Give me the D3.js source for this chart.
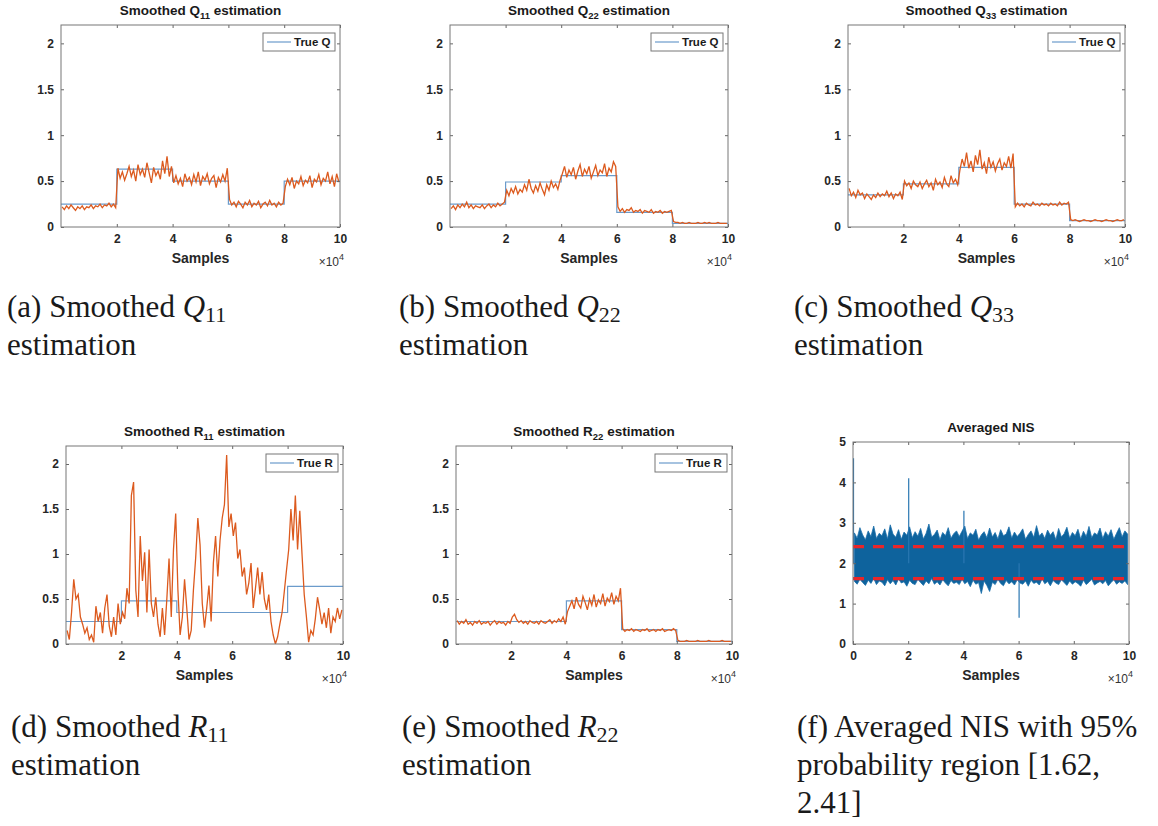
<!DOCTYPE html>
<html>
<head>
<meta charset="utf-8">
<script src="https://cdn.jsdelivr.net/npm/d3@7"></script>
<style>
  body { margin: 0; background: #fff; }
  svg { display: block; }
</style>
</head>
<body>
<svg id="chart" width="1158" height="826"></svg>
<script>
// ---- data ----
const sampleStep = 800;
const segmentBreaks = [0, 20000, 40000, 60000, 80000, 100000];
const xTicksMain = [20000, 40000, 60000, 80000, 100000];
const xTicksNis = [0, 20000, 40000, 60000, 80000, 100000];
const yTicksMain = [0, 0.5, 1, 1.5, 2];
const yTicksNis = [0, 1, 2, 3, 4, 5];

const trueQ11 = [0.25, 0.63, 0.5, 0.25, 0.5];
const estQ11 = [
  0.22,0.19,0.23,0.20,0.24,0.21,0.18,0.22,0.20,0.23,0.19,0.22,0.21,0.24,0.20,0.23,0.22,0.25,0.21,0.24,0.23,0.26,0.22,0.25,0.21,
  0.64,0.53,0.60,0.51,0.58,0.66,0.55,0.62,0.50,0.68,0.57,0.63,0.54,0.70,0.59,0.48,0.65,0.56,0.61,0.52,0.72,0.58,0.77,0.55,0.66,
  0.48,0.56,0.47,0.53,0.44,0.58,0.50,0.54,0.46,0.57,0.49,0.60,0.45,0.55,0.51,0.58,0.47,0.53,0.56,0.43,0.54,0.49,0.57,0.50,0.64,
  0.30,0.24,0.27,0.22,0.28,0.25,0.21,0.27,0.24,0.29,0.22,0.26,0.24,0.28,0.21,0.25,0.27,0.23,0.29,0.24,0.26,0.22,0.27,0.24,0.26,
  0.44,0.52,0.46,0.54,0.42,0.50,0.47,0.55,0.45,0.51,0.48,0.56,0.43,0.52,0.49,0.57,0.46,0.53,0.50,0.60,0.47,0.55,0.44,0.58,0.49
];

const trueQ22 = [0.25, 0.49, 0.56, 0.16, 0.04];
const estQ22 = [
  0.20,0.23,0.19,0.24,0.21,0.25,0.22,0.27,0.21,0.24,0.20,0.23,0.22,0.21,0.24,0.20,0.23,0.25,0.21,0.24,0.22,0.26,0.23,0.25,0.27,
  0.40,0.34,0.42,0.37,0.44,0.36,0.41,0.38,0.46,0.40,0.52,0.42,0.37,0.45,0.39,0.48,0.41,0.35,0.46,0.40,0.50,0.43,0.47,0.41,0.51,
  0.58,0.66,0.54,0.62,0.57,0.65,0.52,0.61,0.68,0.55,0.63,0.58,0.66,0.53,0.60,0.67,0.56,0.62,0.59,0.69,0.55,0.64,0.60,0.71,0.66,
  0.22,0.17,0.20,0.16,0.19,0.18,0.21,0.16,0.18,0.17,0.19,0.15,0.18,0.17,0.16,0.19,0.15,0.17,0.16,0.18,0.15,0.17,0.16,0.17,0.18,
  0.06,0.05,0.05,0.04,0.05,0.04,0.04,0.05,0.04,0.04,0.04,0.05,0.04,0.04,0.05,0.04,0.05,0.04,0.04,0.04,0.05,0.04,0.04,0.04,0.04
];

const trueQ33 = [0.35, 0.47, 0.65, 0.25, 0.07];
const estQ33 = [
  0.42,0.34,0.38,0.32,0.40,0.35,0.37,0.31,0.36,0.33,0.30,0.35,0.32,0.37,0.33,0.36,0.34,0.39,0.33,0.37,0.31,0.36,0.34,0.38,0.30,
  0.50,0.45,0.48,0.42,0.50,0.46,0.44,0.49,0.42,0.47,0.51,0.44,0.48,0.40,0.52,0.46,0.49,0.43,0.54,0.47,0.44,0.56,0.48,0.52,0.46,
  0.62,0.74,0.66,0.81,0.64,0.72,0.60,0.78,0.68,0.84,0.63,0.70,0.58,0.76,0.65,0.71,0.61,0.69,0.74,0.62,0.70,0.66,0.77,0.64,0.80,
  0.22,0.26,0.23,0.25,0.22,0.26,0.24,0.23,0.27,0.24,0.25,0.23,0.26,0.24,0.25,0.23,0.26,0.24,0.25,0.23,0.27,0.24,0.26,0.25,0.27,
  0.08,0.07,0.08,0.07,0.06,0.07,0.08,0.07,0.07,0.06,0.07,0.08,0.07,0.07,0.06,0.07,0.08,0.07,0.07,0.06,0.07,0.08,0.07,0.07,0.08
];

const trueR11 = [0.25, 0.48, 0.35, 0.35, 0.64];
const estR11 = [
  0.15,0.05,0.35,0.72,0.50,0.55,0.30,0.22,0.12,0.18,0.05,0.10,0.02,0.42,0.25,0.35,0.12,0.40,0.55,0.20,0.08,0.30,0.10,0.45,0.22,
  0.35,0.28,0.62,0.45,1.65,1.80,0.60,0.30,1.20,0.70,1.02,0.35,1.05,0.45,0.30,0.52,0.22,0.08,0.40,0.10,0.50,0.95,0.30,1.05,1.45,
  0.60,0.10,0.30,0.72,0.40,0.05,0.15,0.60,0.95,1.40,1.10,0.45,0.18,0.40,0.65,0.25,0.90,1.20,0.75,1.15,1.40,1.55,2.10,1.30,1.45,
  1.20,1.35,0.95,1.05,0.75,0.85,0.55,0.68,0.90,0.40,0.62,0.85,0.55,0.80,0.50,0.38,0.55,0.25,0.10,0.00,0.08,0.22,0.35,0.58,0.82,
  1.05,1.50,1.15,1.65,1.05,1.48,1.00,0.55,0.30,0.02,0.15,0.10,0.28,0.52,0.38,0.22,0.35,0.18,0.40,0.12,0.30,0.25,0.40,0.28,0.38
];

const trueR22 = [0.25, 0.25, 0.48, 0.16, 0.03];
const estR22 = [
  0.26,0.22,0.25,0.23,0.27,0.22,0.24,0.21,0.25,0.23,0.26,0.22,0.24,0.23,0.25,0.21,0.24,0.26,0.22,0.25,0.23,0.24,0.21,0.25,0.23,
  0.30,0.33,0.27,0.24,0.26,0.23,0.25,0.22,0.26,0.24,0.23,0.25,0.22,0.26,0.24,0.23,0.25,0.27,0.23,0.26,0.24,0.28,0.25,0.30,0.22,
  0.36,0.42,0.48,0.39,0.52,0.44,0.40,0.53,0.46,0.38,0.50,0.43,0.55,0.41,0.49,0.45,0.56,0.42,0.51,0.47,0.57,0.44,0.53,0.48,0.62,
  0.17,0.14,0.16,0.15,0.17,0.14,0.16,0.15,0.14,0.16,0.15,0.17,0.14,0.15,0.16,0.14,0.16,0.15,0.17,0.14,0.15,0.16,0.15,0.17,0.15,
  0.04,0.03,0.03,0.03,0.04,0.03,0.03,0.03,0.03,0.04,0.03,0.03,0.03,0.03,0.04,0.03,0.03,0.03,0.03,0.03,0.04,0.03,0.03,0.03,0.03
];

// averaged NIS: upper / lower envelope per 1000 samples
const nisBinStep = 1000;
const nisHigh = [
  2.75,2.62,2.88,2.70,2.58,2.80,2.66,2.92,2.61,2.74,
  2.68,2.85,2.60,2.95,2.72,2.64,2.83,2.59,2.77,2.69,
  2.90,2.63,2.78,2.67,2.86,2.60,2.74,2.97,2.65,2.71,
  2.82,2.58,2.76,2.68,2.88,2.62,2.73,2.80,2.66,2.79,
  2.92,2.61,2.75,2.69,2.84,2.57,2.70,2.78,2.63,2.87,
  2.65,2.76,2.60,2.83,2.68,2.72,2.90,2.62,2.77,2.66,
  2.74,2.85,2.59,2.71,2.80,2.64,2.93,2.67,2.75,2.61,
  2.82,2.69,2.78,2.58,2.86,2.65,2.73,2.89,2.62,2.76,
  2.68,2.84,2.60,2.79,2.66,2.91,2.63,2.75,2.70,2.87,
  2.61,2.78,2.67,2.83,2.59,2.74,2.88,2.65,2.80,2.72
];
const nisLow = [
  1.55,1.48,1.60,1.52,1.45,1.58,1.50,1.62,1.47,1.56,
  1.53,1.44,1.59,1.49,1.57,1.46,1.61,1.51,1.54,1.43,
  1.58,1.50,1.47,1.60,1.52,1.45,1.56,1.49,1.62,1.48,
  1.54,1.46,1.59,1.51,1.44,1.57,1.50,1.53,1.47,1.60,
  1.49,1.55,1.42,1.58,1.48,1.52,1.25,1.56,1.45,1.30,
  1.53,1.47,1.60,1.50,1.44,1.57,1.49,1.54,1.46,1.59,
  1.51,1.48,1.56,1.43,1.58,1.50,1.53,1.46,1.61,1.49,
  1.55,1.44,1.57,1.51,1.47,1.59,1.52,1.45,1.56,1.48,
  1.54,1.50,1.43,1.58,1.47,1.53,1.60,1.46,1.51,1.55,
  1.49,1.57,1.44,1.52,1.59,1.48,1.54,1.50,1.56,1.47
];
const nisSpikeSamples = [0, 20000, 40000, 60000];
const nisSpikeValues = [4.6, 4.1, 3.3, 0.65];
const nisBounds = [1.62, 2.41];

// ---- layout ----
const panels = [
  { box: [61, 25, 340, 227], title: ["Smoothed Q", "11", " estimation"], est: estQ11, truth: trueQ11, legend: "True Q",
    caption: { x: 7, y: 317, head: "(a) Smoothed ", sym: "Q", sub: "11", lines: ["estimation"] } },
  { box: [450, 25, 728, 227], title: ["Smoothed Q", "22", " estimation"], est: estQ22, truth: trueQ22, legend: "True Q",
    caption: { x: 399, y: 317, head: "(b) Smoothed ", sym: "Q", sub: "22", lines: ["estimation"] } },
  { box: [848, 25, 1125, 227], title: ["Smoothed Q", "33", " estimation"], est: estQ33, truth: trueQ33, legend: "True Q",
    caption: { x: 794, y: 317, head: "(c) Smoothed ", sym: "Q", sub: "33", lines: ["estimation"] } },
  { box: [66, 446, 343, 644], title: ["Smoothed R", "11", " estimation"], est: estR11, truth: trueR11, legend: "True R",
    caption: { x: 11, y: 737, head: "(d) Smoothed ", sym: "R", sub: "11", lines: ["estimation"] } },
  { box: [456, 446, 732, 644], title: ["Smoothed R", "22", " estimation"], est: estR22, truth: trueR22, legend: "True R",
    caption: { x: 402, y: 737, head: "(e) Smoothed ", sym: "R", sub: "22", lines: ["estimation"] } },
  { box: [853, 442, 1129, 644], title: ["Averaged NIS", "", ""], nis: true,
    caption: { x: 797, y: 737, head: "(f) Averaged NIS with 95%", sym: "", sub: "", lines: ["probability region [1.62,", "2.41]"] } }
];

const svg = d3.select("#chart");
const axisFont = "'Liberation Sans', Arial, sans-serif";
const orange = "#DC5A1E";
const trueBlue = "#6b9bcb";

panels.forEach((p, pi) => {
  const [x0, y0, x1, y1] = p.box;
  const x = d3.scaleLinear().domain([0, 100000]).range([x0, x1]);
  const y = d3.scaleLinear().domain(p.nis ? [0, 5] : [0, 2.2]).range([y1, y0]);
  const g = svg.append("g");

  g.append("clipPath").attr("id", "clip" + pi)
    .append("rect").attr("x", x0).attr("y", y0).attr("width", x1 - x0).attr("height", y1 - y0);
  const plot = g.append("g").attr("clip-path", `url(#clip${pi})`);

  if (p.nis) {
    const bins = nisHigh.map((h, i) => ({ s: i * nisBinStep + nisBinStep / 2, hi: h, lo: nisLow[i] }));
    plot.append("path")
      .datum(bins)
      .attr("d", d3.area().x(d => x(d.s)).y0(d => y(d.lo)).y1(d => y(d.hi)))
      .attr("fill", "#0e639d")
      .attr("stroke", "#1a6fab")
      .attr("stroke-width", 0.8);
    plot.selectAll("line.spike")
      .data(nisSpikeSamples.map((s, i) => ({ s: s, v: nisSpikeValues[i] })))
      .enter().append("line")
      .attr("x1", d => x(d.s) + 0.5).attr("x2", d => x(d.s) + 0.5)
      .attr("y1", y(2)).attr("y2", d => y(d.v))
      .attr("stroke", "#2a77b2").attr("stroke-width", 1.2);
    plot.selectAll("line.bound")
      .data(nisBounds)
      .enter().append("line")
      .attr("x1", x0).attr("x2", x1)
      .attr("y1", d => y(d)).attr("y2", d => y(d))
      .attr("stroke", "#e8262a").attr("stroke-width", 3.2)
      .attr("stroke-dasharray", "11,9");
  } else {
    const steps = segmentBreaks.map((b, i) => [b, p.truth[Math.min(i, p.truth.length - 1)]]);
    plot.append("path")
      .datum(steps)
      .attr("d", d3.line().curve(d3.curveStepAfter).x(d => x(d[0])).y(d => y(d[1])))
      .attr("fill", "none")
      .attr("stroke", trueBlue)
      .attr("stroke-width", 1.2);
    const pts = p.est.map((v, i) => [i * sampleStep + sampleStep / 2, v]);
    plot.append("path")
      .datum(pts)
      .attr("d", d3.line().x(d => x(d[0])).y(d => y(d[1])))
      .attr("fill", "none")
      .attr("stroke", orange)
      .attr("stroke-width", 1.3);
  }

  // axes
  const yTicks = p.nis ? yTicksNis : yTicksMain;
  const xTicks = p.nis ? xTicksNis : xTicksMain;
  const ax = [
    g.append("g").attr("transform", `translate(${x0},0)`)
      .call(d3.axisLeft(y).tickValues(yTicks).tickSizeInner(-3).tickSizeOuter(0).tickPadding(7).tickFormat(d => String(d))),
    g.append("g").attr("transform", `translate(0,${y1})`)
      .call(d3.axisBottom(x).tickValues(xTicks).tickSizeInner(-3).tickSizeOuter(0).tickPadding(7.5).tickFormat(d => String(d / 10000))),
    g.append("g").attr("transform", `translate(${x1},0)`)
      .call(d3.axisRight(y).tickValues(yTicks).tickSizeInner(-3).tickSizeOuter(0).tickFormat("")),
    g.append("g").attr("transform", `translate(0,${y0})`)
      .call(d3.axisTop(x).tickValues(xTicks).tickSizeInner(-3).tickSizeOuter(0).tickFormat(""))
  ];
  ax.forEach(a => {
    a.select(".domain").remove();
    a.selectAll(".tick line").attr("stroke", "#666");
    a.selectAll(".tick text")
      .attr("font-family", axisFont).attr("font-size", "12px")
      .attr("font-weight", "bold").attr("fill", "#262626");
  });
  g.append("rect")
    .attr("x", x0).attr("y", y0).attr("width", x1 - x0).attr("height", y1 - y0)
    .attr("fill", "none").attr("stroke", "#777").attr("stroke-width", 1);

  // title
  const t = g.append("text")
    .attr("x", (x0 + x1) / 2).attr("y", y0 - 10)
    .attr("text-anchor", "middle")
    .attr("font-family", axisFont).attr("font-size", "13.5px")
    .attr("font-weight", "bold").attr("fill", "#1a1a1a");
  t.append("tspan").text(p.title[0]);
  if (p.title[1]) {
    t.append("tspan").attr("font-size", "9.5px").attr("dy", 4).text(p.title[1]);
    t.append("tspan").attr("dy", -4).text(p.title[2]);
  }

  // x label and exponent
  g.append("text")
    .attr("x", (x0 + x1) / 2).attr("y", y1 + 36)
    .attr("text-anchor", "middle")
    .attr("font-family", axisFont).attr("font-size", "14px")
    .attr("font-weight", "bold").attr("fill", "#262626")
    .text("Samples");
  const ex = g.append("text")
    .attr("x", x1 + 4).attr("y", y1 + 39)
    .attr("text-anchor", "end")
    .attr("font-family", axisFont).attr("font-size", "12px")
    .attr("fill", "#333");
  ex.append("tspan").text("\u00d710");
  ex.append("tspan").attr("font-size", "9px").attr("dy", -6).text("4");

  // legend
  if (p.legend) {
    const lw = 72, lh = 18;
    const lx = x1 - 5 - lw, ly = y0 + 8;
    const lg = g.append("g");
    lg.append("rect").attr("x", lx).attr("y", ly).attr("width", lw).attr("height", lh)
      .attr("fill", "#fff").attr("stroke", "#777").attr("stroke-width", 1);
    lg.append("line").attr("x1", lx + 4).attr("x2", lx + 28)
      .attr("y1", ly + lh / 2).attr("y2", ly + lh / 2)
      .attr("stroke", trueBlue).attr("stroke-width", 1.2);
    lg.append("text").attr("x", lx + 31).attr("y", ly + lh / 2 + 4)
      .attr("font-family", axisFont).attr("font-size", "11.5px")
      .attr("font-weight", "bold").attr("fill", "#1a1a1a")
      .text(p.legend);
  }

  // caption
  const c = p.caption;
  const cap = svg.append("g")
    .attr("font-family", "'Liberation Serif', 'Times New Roman', serif")
    .attr("font-size", "31px").attr("fill", "#1a1a1a");
  const first = cap.append("text").attr("x", c.x).attr("y", c.y);
  first.append("tspan").text(c.head);
  if (c.sym) {
    first.append("tspan").attr("font-style", "italic").text(c.sym);
    first.append("tspan").attr("font-size", "22px").attr("dy", 5).text(c.sub);
  }
  c.lines.forEach((ln, i) => {
    cap.append("text").attr("x", c.x).attr("y", c.y + 38 * (i + 1)).text(ln);
  });
});
</script>
</body>
</html>
